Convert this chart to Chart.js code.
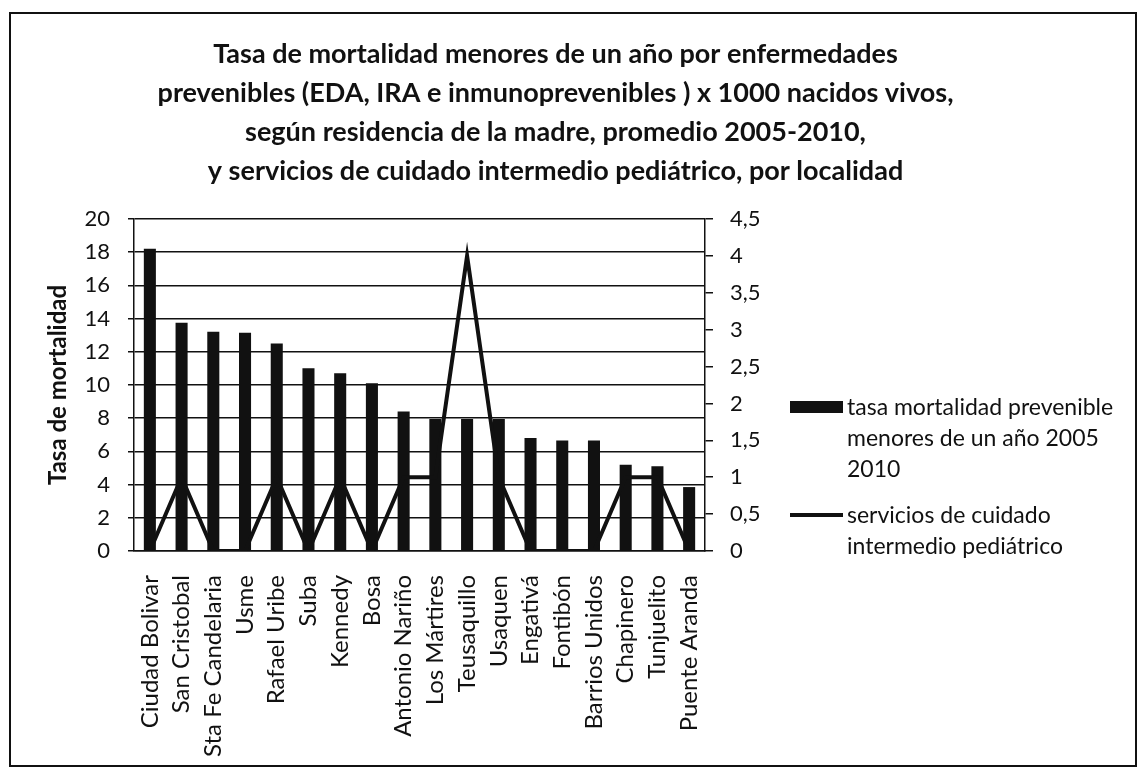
<!DOCTYPE html>
<html lang="es">
<head>
  <meta charset="UTF-8">
  <title>Tasa de mortalidad menores de un año</title>
  <script src="https://cdn.jsdelivr.net/npm/chart.js"></script>
  <style>
    body { margin: 0; background: #fff; font-family: Lato, sans-serif; }
    #wrap { position: relative; width: 1145px; height: 770px; }
    #frame { position: absolute; left: 9px; top: 12px; width: 1124px; height: 751px; border: 2px solid #111; pointer-events: none; }
    #legend { position: absolute; left: 790px; top: 391px; color: #111; font-size: 23px; line-height: 31px; }
    .item { display: flex; align-items: flex-start; margin-bottom: 15px; }
    .swatch { width: 53px; flex: none; margin-right: 4px; }
    .box { height: 12px; background: #111; margin-top: 10px; }
    .ln { height: 4px; background: #111; margin-top: 14px; }
  </style>
</head>
<body>
  <div id="wrap">
    <canvas id="chart" width="1145" height="770"></canvas>
    <div id="frame"></div>
    <div id="legend">
      <div class="item"><div class="swatch box"></div><div>tasa mortalidad prevenible<br>menores de un año 2005<br>2010</div></div>
      <div class="item"><div class="swatch ln"></div><div>servicios de cuidado<br>intermedio pediátrico</div></div>
    </div>
  </div>

  <script>
    const localidades = ["Ciudad Bolivar", "San Cristobal", "Sta Fe Candelaria", "Usme", "Rafael Uribe", "Suba",
      "Kennedy", "Bosa", "Antonio Nariño", "Los Mártires", "Teusaquillo", "Usaquen", "Engativá", "Fontibón",
      "Barrios Unidos", "Chapinero", "Tunjuelito", "Puente Aranda"];
    const tasaMortalidad = [18.2, 13.75, 13.2, 13.15, 12.5, 11.0, 10.7, 10.1, 8.4, 7.95, 7.95, 7.95, 6.8, 6.65, 6.65, 5.2, 5.1, 3.85];
    const servicios = [0, 1, 0, 0, 1, 0, 1, 0, 1, 1, 4, 1, 0, 0, 0, 1, 1, 0];
    const tituloLineas = [
      "Tasa de mortalidad menores de un año por enfermedades",
      "prevenibles (EDA, IRA e inmunoprevenibles ) x 1000 nacidos vivos,",
      "según residencia de la madre, promedio 2005-2010,",
      "y servicios de cuidado intermedio pediátrico, por localidad"
    ];

    const negro = '#111';
    Chart.defaults.font.family = 'Lato, sans-serif';
    Chart.defaults.color = negro;

    new Chart(document.getElementById('chart').getContext('2d'), {
      data: {
        labels: localidades,
        datasets: [
          {
            type: 'line',
            label: 'servicios de cuidado intermedio pediátrico',
            data: servicios,
            yAxisID: 'y1',
            borderColor: negro,
            borderWidth: 4,
            pointRadius: 0,
            tension: 0,
            order: 0
          },
          {
            type: 'bar',
            label: 'tasa mortalidad prevenible menores de un año 2005 2010',
            data: tasaMortalidad,
            yAxisID: 'y',
            backgroundColor: negro,
            barPercentage: 0.4,
            categoryPercentage: 0.95,
            order: 1
          }
        ]
      },
      options: {
        responsive: false,
        animation: false,
        layout: { padding: { left: 10, right: 44, top: 10, bottom: 10 } },
        plugins: {
          legend: { display: false },
          tooltip: { enabled: false },
          title: {
            display: true,
            text: tituloLineas,
            font: { size: 27, weight: 'bold', lineHeight: 1.444 },
            padding: { top: 25, bottom: 28 }
          }
        },
        scales: {
          x: {
            grid: { display: false },
            border: { color: negro, width: 1.5 },
            ticks: { font: { size: 24 }, minRotation: 90, maxRotation: 90, padding: 16, autoSkip: false },
            afterFit: s => { s.height = 209; }
          },
          y: {
            position: 'left',
            min: 0, max: 20,
            ticks: { stepSize: 2, font: { size: 22 }, padding: 18, autoSkip: false },
            grid: { color: negro, lineWidth: 1.5, tickLength: 6 },
            border: { color: negro, width: 1.5 },
            title: { display: true, text: 'Tasa de mortalidad', font: { size: 24, weight: 'bold' }, padding: { top: 34, bottom: 0 } },
            afterFit: s => { s.width = 124; }
          },
          y1: {
            position: 'right',
            min: 0, max: 4.5,
            ticks: { stepSize: 0.5, font: { size: 22 }, padding: 17, autoSkip: false, callback: v => String(v).replace('.', ',') },
            grid: { drawOnChartArea: false, color: negro, lineWidth: 1.5, tickLength: 8 },
            border: { color: negro, width: 1.5 },
            afterFit: s => { s.width = 396; }
          }
        }
      }
    });
  </script>
</body>
</html>
